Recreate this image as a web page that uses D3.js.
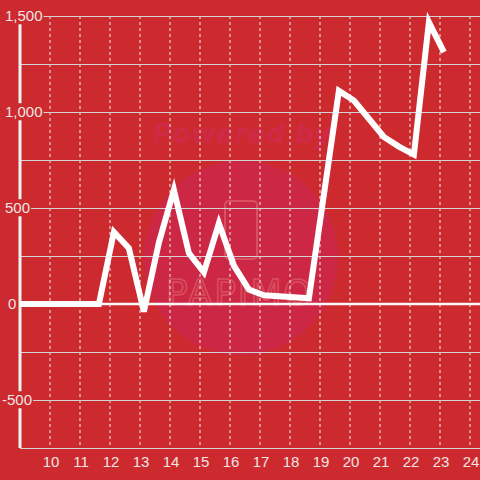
<!DOCTYPE html>
<html>
<head>
    <style>
        body { margin: 0; background: #cc2a2f; }
        svg { display: block; font-family: "Liberation Sans", Arial, sans-serif; }
        .tick-label { font-size: 15px; fill: #f3e3e3; }
        .watermark { font-family: "DejaVu Sans", sans-serif; }
    </style>
    <script src="https://d3js.org/d3.v7.min.js"></script>
</head>
<body>
    <svg width="480" height="480"></svg>
    <script>
        // data
        var xVals = [9, 11.63, 12.13, 12.63, 13.13, 13.63, 14.13, 14.63, 15.13, 15.63, 16.13, 16.63,
                     17.13, 17.63, 18.13, 18.63, 19.13, 19.63, 20.13, 20.63, 21.13, 21.63, 22.13, 22.63, 23.13];
        var yVals = [0, 0, 375, 290, -40, 320, 594, 265, 165, 420, 200, 75,
                     45, 40, 35, 30, 570, 1110, 1060, 965, 870, 820, 778, 1468, 1312];
        var xTicks = [10, 11, 12, 13, 14, 15, 16, 17, 18, 19, 20, 21, 22, 23, 24];
        var yTicks = [-750, -500, -250, 0, 250, 500, 750, 1000, 1250, 1500];
        var yLabelTicks = [-500, 0, 500, 1000, 1500];

        var svg = d3.select("svg"),
            width = +svg.attr("width"),
            height = +svg.attr("height");

        var plotLeft = 20, plotRight = 480, plotTop = 16, plotBottom = 448;

        var x = d3.scaleLinear().domain([9, 9 + (plotRight - plotLeft) / 30]).range([plotLeft, plotRight]);
        var y = d3.scaleLinear().domain([-750, 1500]).range([plotBottom, plotTop]);

        svg.append("rect").attr("width", width).attr("height", height).attr("fill", "#cc2a2f");

        // watermark
        var wm = svg.append("g").attr("class", "watermark");
        wm.append("circle").attr("cx", 241).attr("cy", 258).attr("r", 97).attr("fill", "#cc2846");
        wm.append("text").attr("x", 242).attr("y", 143).attr("text-anchor", "middle")
          .attr("font-size", 27).attr("font-weight", "bold").attr("font-style", "italic")
          .attr("fill", "#cf2a45").text("Powered by");
        wm.append("rect").attr("x", 225).attr("y", 201).attr("width", 32).attr("height", 58)
          .attr("rx", 4).attr("fill", "none").attr("stroke", "#d9505e").attr("stroke-width", 2);
        wm.append("text").attr("x", 240).attr("y", 305).attr("text-anchor", "middle")
          .attr("font-size", 36).attr("letter-spacing", 2).attr("fill", "none")
          .attr("stroke", "#d9505e").attr("stroke-width", 1.5).text("PAPIMO");

        // vertical dotted grid
        svg.append("g").selectAll("line").data(xTicks).enter().append("line")
           .attr("x1", function(d) { return x(d); }).attr("x2", function(d) { return x(d); })
           .attr("y1", plotTop).attr("y2", plotBottom)
           .attr("stroke", "#f0f0f0").attr("stroke-width", 1).attr("stroke-dasharray", "3,3");

        // horizontal grid
        svg.append("g").selectAll("line").data(yTicks).enter().append("line")
           .attr("x1", plotLeft).attr("x2", plotRight)
           .attr("y1", function(d) { return y(d) + 0.5; }).attr("y2", function(d) { return y(d) + 0.5; })
           .attr("stroke", "#d3d3d3").attr("stroke-width", 1);

        // zero line
        svg.append("line").attr("x1", plotLeft).attr("x2", plotRight)
           .attr("y1", y(0)).attr("y2", y(0))
           .attr("stroke", "#f8f8f8").attr("stroke-width", 2.5);

        // y axis line
        svg.append("line").attr("x1", plotLeft).attr("x2", plotLeft)
           .attr("y1", plotTop + 8).attr("y2", plotBottom)
           .attr("stroke", "#f2f2f2").attr("stroke-width", 3);

        // data line
        var line = d3.line()
            .x(function(d, i) { return x(xVals[i]); })
            .y(function(d) { return y(d); });

        svg.append("path").datum(yVals)
           .attr("d", line)
           .attr("fill", "none").attr("stroke", "#ffffff").attr("stroke-width", 6)
           .attr("stroke-linejoin", "miter").attr("stroke-linecap", "butt");

        // y labels with background boxes
        var yl = svg.append("g").selectAll("g").data(yLabelTicks).enter().append("g");
        yl.append("text")
          .attr("class", "tick-label")
          .attr("x", function(d) { return d < 0 ? 2 : (d === 0 ? 8 : 5); })
          .attr("y", function(d) { return y(d); })
          .attr("dy", "0.35em")
          .text(function(d) { return d3.format(",")(d).replace("−", "-"); })
          .each(function() {
              var b = this.getBBox();
              d3.select(this.parentNode).insert("rect", "text")
                .attr("x", b.x - 1).attr("y", b.y).attr("width", b.width + 2).attr("height", b.height)
                .attr("fill", "#cc2a2f");
          });

        // x labels
        svg.append("g").selectAll("text").data(xTicks).enter().append("text")
           .attr("class", "tick-label")
           .attr("x", function(d) { return x(d) + 1; })
           .attr("y", 462).attr("dy", "0.35em")
           .attr("text-anchor", "middle")
           .text(function(d) { return d; });
    </script>
</body>
</html>
